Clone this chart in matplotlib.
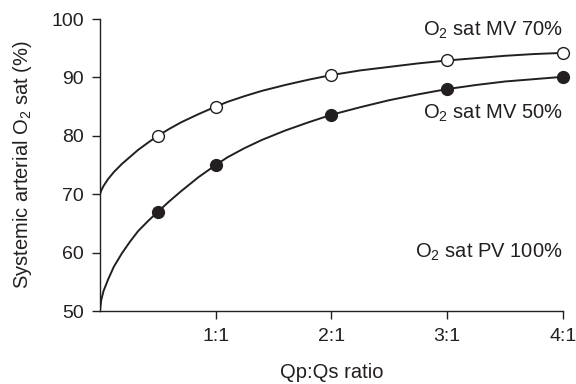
import matplotlib
matplotlib.use("Agg")
import matplotlib.pyplot as plt

plt.rcParams["font.family"] = ["Liberation Sans", "DejaVu Sans"]
plt.rcParams["mathtext.fontset"] = "custom"
plt.rcParams["mathtext.rm"] = "Liberation Sans"
plt.rcParams["mathtext.it"] = "Liberation Sans"

# marker points
ratio = [0.5, 1, 2, 3, 4]
mv70 = [80.0, 85.0, 90.4, 92.9, 94.2]
mv50 = [67.0, 75.0, 83.6, 88.0, 90.1]

# curve
curve_x = [0, 0.01, 0.03, 0.07, 0.12, 0.19, 0.26, 0.33, 0.42, 0.5, 0.6, 0.7, 0.85,
           1.0, 1.1, 1.25, 1.4, 1.6, 1.8, 2.0, 2.25, 2.5, 2.75, 3.0, 3.25, 3.5, 3.75, 4.0]
curve_mv70 = [70.0, 70.6, 71.4, 72.6, 73.8, 75.2, 76.4, 77.6, 78.9, 80.0, 81.2, 82.3, 83.7,
              85.0, 85.8, 86.8, 87.7, 88.7, 89.6, 90.4, 91.2, 91.8, 92.4, 92.9, 93.3, 93.7, 94.0, 94.2]
curve_mv50 = [50.0, 51.8, 53.4, 55.4, 57.6, 59.9, 61.9, 63.7, 65.5, 67.0, 68.8, 70.5, 72.9,
              75.0, 76.3, 77.9, 79.3, 80.9, 82.3, 83.6, 84.9, 86.1, 87.1, 88.0, 88.7, 89.3, 89.7, 90.1]

tick_pos = [1, 2, 3, 4]
tick_labels = ["1:1", "2:1", "3:1", "4:1"]

ink = "#231f20"

fig = plt.figure(figsize=(5.76, 3.84), dpi=100)
ax = fig.add_axes([0.1736, 0.19, 0.8034, 0.7605])

ax.plot(curve_x, curve_mv70, color=ink, lw=1.4, zorder=2)
ax.plot(curve_x, curve_mv50, color=ink, lw=1.4, zorder=2)
ax.plot(ratio, mv70, "o", ms=8.5, mfc="white", mec=ink, mew=1.0, zorder=3, clip_on=False)
ax.plot(ratio, mv50, "o", ms=8.5, mfc=ink, mec=ink, mew=1.0, zorder=3, clip_on=False)

ax.set_xlim(0, 4)
ax.set_ylim(50, 100)
ax.set_xticks(tick_pos)
ax.set_xticklabels(tick_labels)
ax.set_yticks(range(50, 101, 10))

for s in ["top", "right"]:
    ax.spines[s].set_visible(False)
for s in ["left", "bottom"]:
    ax.spines[s].set_color(ink)
    ax.spines[s].set_linewidth(1.0)
ax.tick_params(direction="out", length=5.5, width=1.0, color=ink,
               labelsize=14, labelcolor=ink)
ax.tick_params(axis="x", pad=7)
ax.tick_params(axis="y", pad=6)

ax.set_xlabel("Qp:Qs ratio", fontsize=14.5, color=ink, va="center")
ax.xaxis.set_label_coords(0.5, -0.209)
ax.set_ylabel(r"Systemic arterial $\mathrm{O}_2$ sat (%)", fontsize=14.5, color=ink, va="center")
ax.yaxis.set_label_coords(-0.168, 0.5)

ax.text(4, 98.1, r"$\mathrm{O}_2$ sat MV 70%", ha="right", va="center", fontsize=14.5, color=ink)
ax.text(4, 83.9, r"$\mathrm{O}_2$ sat MV 50%", ha="right", va="center", fontsize=14.5, color=ink)
ax.text(4, 60.1, r"$\mathrm{O}_2$ sat PV 100%", ha="right", va="center", fontsize=14.5, color=ink)

fig.savefig("out.png", dpi=100)
